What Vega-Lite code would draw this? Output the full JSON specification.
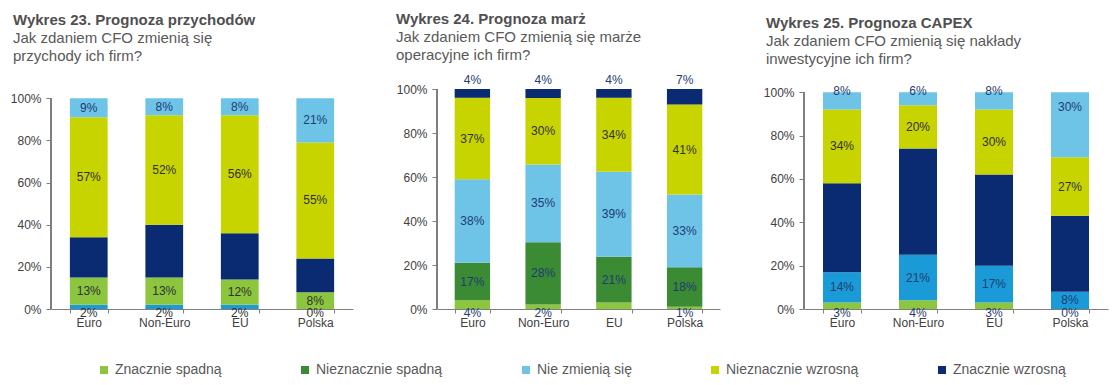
{
  "$schema": "https://vega.github.io/schema/vega-lite/v6.json",
  "padding": {"left": 10, "top": 11, "right": 5, "bottom": 5},
  "background": "white",
  "config": {
    "font": "Liberation Sans",
    "view": {"stroke": null},
    "axis": {"title": null, "grid": false, "labelFontSize": 12, "labelColor": "#404040", "domainColor": "#7f7f7f", "tickColor": "#7f7f7f", "labelFont": "Liberation Sans"},
    "axisX": {"labelAngle": 0, "tickSize": 4, "labelPadding": 4, "tickBand": "extent"},
    "axisY": {"domain": false, "tickSize": 5, "labelPadding": 5},
    "title": {"font": "Liberation Sans", "fontSize": 15, "fontWeight": "bold", "color": "#505050", "subtitleFont": "Liberation Sans", "subtitleFontSize": 15, "subtitleColor": "#595959", "subtitleLineHeight": 18, "subtitlePadding": 3, "anchor": "start", "frame": "group"},
    "text": {"font": "Liberation Sans", "fontSize": 12}
  },
  "spacing": 84,
  "bounds": "flush",
  "resolve": {"scale": {"color": "independent", "y": "independent", "x": "independent"}},
  "hconcat": [
    {
      "width": 302, "height": 220,
      "title": {"text": "Wykres 23. Prognoza przychodów", "subtitle": ["Jak zdaniem CFO zmienią się", "przychody ich firm?"], "dx": -38, "offset": 25.5},
      "data": {"values": [
        {"cat": "Euro", "series": "Znacznie spadną", "value": 0.02},
        {"cat": "Euro", "series": "Nieznacznie spadną", "value": 0.13},
        {"cat": "Euro", "series": "Nie zmienią się", "value": 0.19},
        {"cat": "Euro", "series": "Nieznacznie wzrosną", "value": 0.57},
        {"cat": "Euro", "series": "Znacznie wzrosną", "value": 0.09},
        {"cat": "Non-Euro", "series": "Znacznie spadną", "value": 0.02},
        {"cat": "Non-Euro", "series": "Nieznacznie spadną", "value": 0.13},
        {"cat": "Non-Euro", "series": "Nie zmienią się", "value": 0.25},
        {"cat": "Non-Euro", "series": "Nieznacznie wzrosną", "value": 0.52},
        {"cat": "Non-Euro", "series": "Znacznie wzrosną", "value": 0.08},
        {"cat": "EU", "series": "Znacznie spadną", "value": 0.02},
        {"cat": "EU", "series": "Nieznacznie spadną", "value": 0.12},
        {"cat": "EU", "series": "Nie zmienią się", "value": 0.22},
        {"cat": "EU", "series": "Nieznacznie wzrosną", "value": 0.56},
        {"cat": "EU", "series": "Znacznie wzrosną", "value": 0.08},
        {"cat": "Polska", "series": "Znacznie spadną", "value": 0.0},
        {"cat": "Polska", "series": "Nieznacznie spadną", "value": 0.08},
        {"cat": "Polska", "series": "Nie zmienią się", "value": 0.16},
        {"cat": "Polska", "series": "Nieznacznie wzrosną", "value": 0.55},
        {"cat": "Polska", "series": "Znacznie wzrosną", "value": 0.21}
      ]},
      "transform": [
        {"calculate": "indexof(['Znacznie spadną','Nieznacznie spadną','Nie zmienią się','Nieznacznie wzrosną','Znacznie wzrosną'], datum.series)", "as": "k"},
        {"stack": "value", "groupby": ["cat"], "sort": [{"field": "k", "order": "ascending"}], "offset": "normalize", "as": ["v0", "v1"]},
        {"calculate": "(datum.v0 + datum.v1) / 2", "as": "mid"}
      ],
      "resolve": {"scale": {"x": "independent"}},
      "layer": [
        {
          "mark": {"type": "bar"},
          "encoding": {
            "x": {"field": "cat", "type": "nominal", "sort": ["Euro", "Non-Euro", "EU", "Polska"], "scale": {"domain": ["Euro", "Non-Euro", "EU", "Polska"], "paddingInner": 0.5, "paddingOuter": 0.25}},
            "y": {"field": "v0", "type": "quantitative", "scale": {"domain": [0, 1.044], "nice": false, "zero": true}, "axis": {"values": [0, 0.2, 0.4, 0.6, 0.8, 1], "format": ".0%"}},
            "y2": {"field": "v1"},
            "color": {"field": "series", "type": "nominal", "scale": {"domain": ["Znacznie spadną", "Nieznacznie spadną", "Nie zmienią się", "Nieznacznie wzrosną", "Znacznie wzrosną"], "range": ["#1a9bd7", "#8cc63e", "#0a2b72", "#c8d400", "#6dc4e6"]}, "legend": null}
          }
        },
        {
          "transform": [{"filter": "datum.k == 1 || datum.k == 3 || datum.k == 4"}],
          "mark": {"type": "text", "baseline": "middle", "align": "center"},
          "encoding": {
            "x": {"field": "cat", "type": "nominal", "scale": {"domain": ["Euro", "Non-Euro", "EU", "Polska"], "paddingInner": 0.5, "paddingOuter": 0.25}, "axis": null},
            "y": {"field": "mid", "type": "quantitative"},
            "text": {"field": "value", "format": ".0%"},
            "color": {"condition": {"test": "datum.k == 4", "value": "#1f3b73"}, "value": "#303030"}
          }
        },
        {
          "transform": [{"filter": "datum.k == 0"}],
          "mark": {"type": "text", "baseline": "middle", "align": "center", "dy": 3.5},
          "encoding": {
            "x": {"field": "cat", "type": "nominal", "scale": {"domain": ["Euro", "Non-Euro", "EU", "Polska"], "paddingInner": 0.5, "paddingOuter": 0.25}, "axis": null},
            "y": {"field": "v0", "type": "quantitative"},
            "text": {"field": "value", "format": ".0%"},
            "color": {"value": "#303030"}
          }
        },
        {
          "mark": {"type": "rule", "color": "#7f7f7f"},
          "encoding": {
            "x": {"datum": 0, "type": "quantitative", "scale": {"domain": [0, 1]}, "axis": null},
            "y": {"datum": 0, "type": "quantitative"},
            "y2": {"datum": 1}
          }
        }
      ]
    },
    {
      "width": 283, "height": 220,
      "title": {"text": "Wykres 24. Prognoza marż", "subtitle": ["Jak zdaniem CFO zmienią się marże", "operacyjne ich firm?"], "dx": -41, "offset": 11.5},
      "data": {"values": [
        {"cat": "Euro", "series": "Znacznie spadną", "value": 0.04},
        {"cat": "Euro", "series": "Nieznacznie spadną", "value": 0.17},
        {"cat": "Euro", "series": "Nie zmienią się", "value": 0.38},
        {"cat": "Euro", "series": "Nieznacznie wzrosną", "value": 0.37},
        {"cat": "Euro", "series": "Znacznie wzrosną", "value": 0.04},
        {"cat": "Non-Euro", "series": "Znacznie spadną", "value": 0.02},
        {"cat": "Non-Euro", "series": "Nieznacznie spadną", "value": 0.28},
        {"cat": "Non-Euro", "series": "Nie zmienią się", "value": 0.35},
        {"cat": "Non-Euro", "series": "Nieznacznie wzrosną", "value": 0.30},
        {"cat": "Non-Euro", "series": "Znacznie wzrosną", "value": 0.04},
        {"cat": "EU", "series": "Znacznie spadną", "value": 0.03},
        {"cat": "EU", "series": "Nieznacznie spadną", "value": 0.21},
        {"cat": "EU", "series": "Nie zmienią się", "value": 0.39},
        {"cat": "EU", "series": "Nieznacznie wzrosną", "value": 0.34},
        {"cat": "EU", "series": "Znacznie wzrosną", "value": 0.04},
        {"cat": "Polska", "series": "Znacznie spadną", "value": 0.01},
        {"cat": "Polska", "series": "Nieznacznie spadną", "value": 0.18},
        {"cat": "Polska", "series": "Nie zmienią się", "value": 0.33},
        {"cat": "Polska", "series": "Nieznacznie wzrosną", "value": 0.41},
        {"cat": "Polska", "series": "Znacznie wzrosną", "value": 0.07}
      ]},
      "transform": [
        {"calculate": "indexof(['Znacznie spadną','Nieznacznie spadną','Nie zmienią się','Nieznacznie wzrosną','Znacznie wzrosną'], datum.series)", "as": "k"},
        {"stack": "value", "groupby": ["cat"], "sort": [{"field": "k", "order": "ascending"}], "offset": "normalize", "as": ["v0", "v1"]},
        {"calculate": "(datum.v0 + datum.v1) / 2", "as": "mid"}
      ],
      "resolve": {"scale": {"x": "independent"}},
      "layer": [
        {
          "mark": {"type": "bar"},
          "encoding": {
            "x": {"field": "cat", "type": "nominal", "sort": ["Euro", "Non-Euro", "EU", "Polska"], "scale": {"domain": ["Euro", "Non-Euro", "EU", "Polska"], "paddingInner": 0.5, "paddingOuter": 0.25}},
            "y": {"field": "v0", "type": "quantitative", "scale": {"domain": [0, 1], "nice": false, "zero": true}, "axis": {"values": [0, 0.2, 0.4, 0.6, 0.8, 1], "format": ".0%"}},
            "y2": {"field": "v1"},
            "color": {"field": "series", "type": "nominal", "scale": {"domain": ["Znacznie spadną", "Nieznacznie spadną", "Nie zmienią się", "Nieznacznie wzrosną", "Znacznie wzrosną"], "range": ["#8cc63e", "#3b8a34", "#6dc4e6", "#c8d400", "#0a2b72"]},
              "legend": {"orient": "none", "legendX": -340, "legendY": 274, "direction": "horizontal", "columns": 5, "columnPadding": 76, "symbolType": "square", "symbolSize": 64, "symbolStrokeWidth": 0, "labelFontSize": 14, "labelColor": "#595959", "labelFont": "Liberation Sans", "labelOffset": 4, "title": null}}
          }
        },
        {
          "transform": [{"filter": "datum.k > 0 && datum.k < 4"}],
          "mark": {"type": "text", "baseline": "middle", "align": "center"},
          "encoding": {
            "x": {"field": "cat", "type": "nominal", "scale": {"domain": ["Euro", "Non-Euro", "EU", "Polska"], "paddingInner": 0.5, "paddingOuter": 0.25}, "axis": null},
            "y": {"field": "mid", "type": "quantitative"},
            "text": {"field": "value", "format": ".0%"},
            "color": {"condition": {"test": "datum.k == 3", "value": "#303030"}, "value": "#1f3b73"}
          }
        },
        {
          "transform": [{"filter": "datum.k == 0 && datum.cat != 'EU'"}],
          "mark": {"type": "text", "baseline": "middle", "align": "center", "dy": 3.5},
          "encoding": {
            "x": {"field": "cat", "type": "nominal", "scale": {"domain": ["Euro", "Non-Euro", "EU", "Polska"], "paddingInner": 0.5, "paddingOuter": 0.25}, "axis": null},
            "y": {"field": "v0", "type": "quantitative"},
            "text": {"field": "value", "format": ".0%"},
            "color": {"value": "#1f3b73"}
          }
        },
        {
          "transform": [{"filter": "datum.k == 4"}],
          "mark": {"type": "text", "baseline": "middle", "align": "center", "dy": -9},
          "encoding": {
            "x": {"field": "cat", "type": "nominal", "scale": {"domain": ["Euro", "Non-Euro", "EU", "Polska"], "paddingInner": 0.5, "paddingOuter": 0.25}, "axis": null},
            "y": {"field": "v1", "type": "quantitative"},
            "text": {"field": "value", "format": ".0%"},
            "color": {"value": "#1f3b73"}
          }
        },
        {
          "mark": {"type": "rule", "color": "#7f7f7f"},
          "encoding": {
            "x": {"datum": 0, "type": "quantitative", "scale": {"domain": [0, 1]}, "axis": null},
            "y": {"datum": 0, "type": "quantitative"},
            "y2": {"datum": 1}
          }
        }
      ]
    },
    {
      "width": 304, "height": 220,
      "title": {"text": "Wykres 25. Prognoza CAPEX", "subtitle": ["Jak zdaniem CFO zmienią się nakłady", "inwestycyjne ich firm?"], "dx": -38, "offset": 18.5},
      "data": {"values": [
        {"cat": "Euro", "series": "Znacznie spadną", "value": 0.03},
        {"cat": "Euro", "series": "Nieznacznie spadną", "value": 0.14},
        {"cat": "Euro", "series": "Nie zmienią się", "value": 0.41},
        {"cat": "Euro", "series": "Nieznacznie wzrosną", "value": 0.34},
        {"cat": "Euro", "series": "Znacznie wzrosną", "value": 0.08},
        {"cat": "Non-Euro", "series": "Znacznie spadną", "value": 0.04},
        {"cat": "Non-Euro", "series": "Nieznacznie spadną", "value": 0.21},
        {"cat": "Non-Euro", "series": "Nie zmienią się", "value": 0.49},
        {"cat": "Non-Euro", "series": "Nieznacznie wzrosną", "value": 0.20},
        {"cat": "Non-Euro", "series": "Znacznie wzrosną", "value": 0.06},
        {"cat": "EU", "series": "Znacznie spadną", "value": 0.03},
        {"cat": "EU", "series": "Nieznacznie spadną", "value": 0.17},
        {"cat": "EU", "series": "Nie zmienią się", "value": 0.42},
        {"cat": "EU", "series": "Nieznacznie wzrosną", "value": 0.30},
        {"cat": "EU", "series": "Znacznie wzrosną", "value": 0.08},
        {"cat": "Polska", "series": "Znacznie spadną", "value": 0.0},
        {"cat": "Polska", "series": "Nieznacznie spadną", "value": 0.08},
        {"cat": "Polska", "series": "Nie zmienią się", "value": 0.35},
        {"cat": "Polska", "series": "Nieznacznie wzrosną", "value": 0.27},
        {"cat": "Polska", "series": "Znacznie wzrosną", "value": 0.30}
      ]},
      "transform": [
        {"calculate": "indexof(['Znacznie spadną','Nieznacznie spadną','Nie zmienią się','Nieznacznie wzrosną','Znacznie wzrosną'], datum.series)", "as": "k"},
        {"stack": "value", "groupby": ["cat"], "sort": [{"field": "k", "order": "ascending"}], "offset": "normalize", "as": ["v0", "v1"]},
        {"calculate": "(datum.v0 + datum.v1) / 2", "as": "mid"}
      ],
      "resolve": {"scale": {"x": "independent"}},
      "layer": [
        {
          "mark": {"type": "bar"},
          "encoding": {
            "x": {"field": "cat", "type": "nominal", "sort": ["Euro", "Non-Euro", "EU", "Polska"], "scale": {"domain": ["Euro", "Non-Euro", "EU", "Polska"], "paddingInner": 0.5, "paddingOuter": 0.25}},
            "y": {"field": "v0", "type": "quantitative", "scale": {"domain": [0, 1.015], "nice": false, "zero": true}, "axis": {"values": [0, 0.2, 0.4, 0.6, 0.8, 1], "format": ".0%"}},
            "y2": {"field": "v1"},
            "color": {"field": "series", "type": "nominal", "scale": {"domain": ["Znacznie spadną", "Nieznacznie spadną", "Nie zmienią się", "Nieznacznie wzrosną", "Znacznie wzrosną"], "range": ["#8cc63e", "#1a9bd7", "#0a2b72", "#c8d400", "#6dc4e6"]}, "legend": null}
          }
        },
        {
          "transform": [{"filter": "datum.k == 1 || datum.k == 3"}],
          "mark": {"type": "text", "baseline": "middle", "align": "center"},
          "encoding": {
            "x": {"field": "cat", "type": "nominal", "scale": {"domain": ["Euro", "Non-Euro", "EU", "Polska"], "paddingInner": 0.5, "paddingOuter": 0.25}, "axis": null},
            "y": {"field": "mid", "type": "quantitative"},
            "text": {"field": "value", "format": ".0%"},
            "color": {"condition": {"test": "datum.k == 3", "value": "#303030"}, "value": "#1f3b73"}
          }
        },
        {
          "transform": [{"filter": "datum.k == 0"}],
          "mark": {"type": "text", "baseline": "middle", "align": "center", "dy": 3.5},
          "encoding": {
            "x": {"field": "cat", "type": "nominal", "scale": {"domain": ["Euro", "Non-Euro", "EU", "Polska"], "paddingInner": 0.5, "paddingOuter": 0.25}, "axis": null},
            "y": {"field": "v0", "type": "quantitative"},
            "text": {"field": "value", "format": ".0%"},
            "color": {"value": "#1f3b73"}
          }
        },
        {
          "transform": [{"filter": "datum.k == 4 && datum.value < 0.1"}],
          "mark": {"type": "text", "baseline": "middle", "align": "center", "dy": -1},
          "encoding": {
            "x": {"field": "cat", "type": "nominal", "scale": {"domain": ["Euro", "Non-Euro", "EU", "Polska"], "paddingInner": 0.5, "paddingOuter": 0.25}, "axis": null},
            "y": {"field": "v1", "type": "quantitative"},
            "text": {"field": "value", "format": ".0%"},
            "color": {"value": "#1f3b73"}
          }
        },
        {
          "transform": [{"filter": "datum.k == 4 && datum.value >= 0.1"}],
          "mark": {"type": "text", "baseline": "middle", "align": "center", "dy": 15},
          "encoding": {
            "x": {"field": "cat", "type": "nominal", "scale": {"domain": ["Euro", "Non-Euro", "EU", "Polska"], "paddingInner": 0.5, "paddingOuter": 0.25}, "axis": null},
            "y": {"field": "v1", "type": "quantitative"},
            "text": {"field": "value", "format": ".0%"},
            "color": {"value": "#1f3b73"}
          }
        },
        {
          "mark": {"type": "rule", "color": "#7f7f7f"},
          "encoding": {
            "x": {"datum": 0, "type": "quantitative", "scale": {"domain": [0, 1]}, "axis": null},
            "y": {"datum": 0, "type": "quantitative"},
            "y2": {"datum": 1}
          }
        }
      ]
    }
  ]
}
